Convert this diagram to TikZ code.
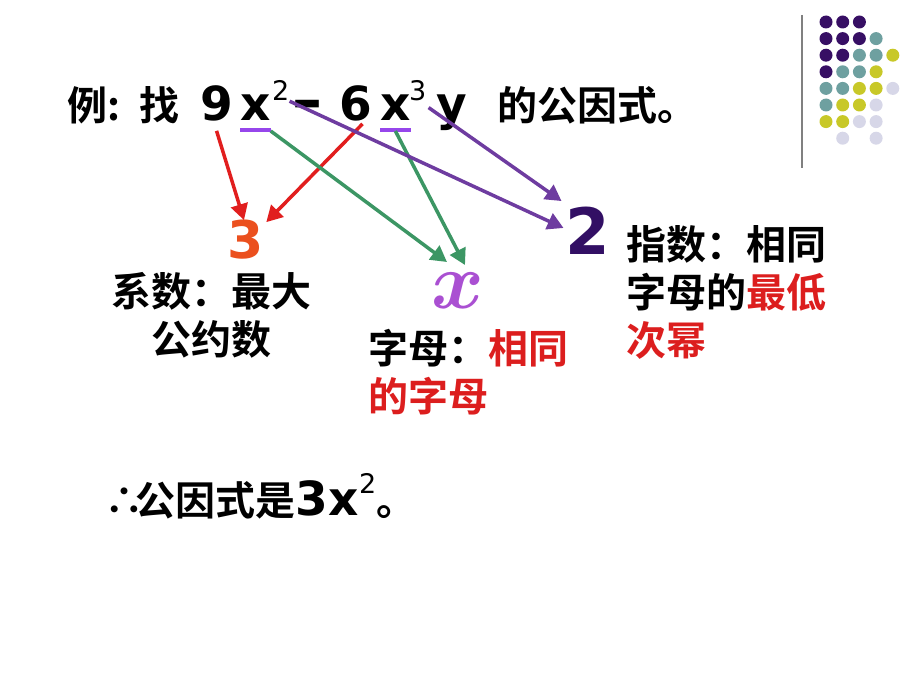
\documentclass[tikz,border=0pt]{standalone}
\usepackage{fix-cm}
\usepackage{fontspec}
\setmainfont{DejaVu Sans}
\newfontfamily\cjk{Noto Sans CJK SC Bold}
\usetikzlibrary{arrows.meta}

\definecolor{arrowred}{RGB}{225,30,30}
\definecolor{arrowgreen}{RGB}{60,150,100}
\definecolor{arrowpurple}{RGB}{110,60,160}
\definecolor{barpurple}{RGB}{150,70,235}
\definecolor{coefred}{RGB}{235,80,30}
\definecolor{letterviolet}{RGB}{170,80,210}
\definecolor{expdark}{RGB}{50,15,100}
\definecolor{textred}{RGB}{220,30,30}
\definecolor{dotdark}{RGB}{55,15,100}
\definecolor{dotteal}{RGB}{110,160,160}
\definecolor{dotyellow}{RGB}{200,200,40}
\definecolor{dotpale}{RGB}{215,215,232}

\tikzset{
  big/.style={inner sep=0, anchor=base west, font=\fontsize{47}{47}\selectfont\bfseries},
  sup/.style={inner sep=0, anchor=base west, font=\fontsize{27}{27}\selectfont},
  han/.style={inner sep=0, anchor=base west, font=\cjk\fontsize{40}{40}\selectfont},
  note/.style={inner sep=0, anchor=west, align=left, font=\cjk\fontsize{40}{48}\selectfont},
  link/.style={line width=3.5pt, -{Triangle[length=16pt,width=17pt]}},
  ubar/.style={line width=4pt, draw=barpurple},
  dot/.style={circle, inner sep=0, minimum size=13pt},
}

\begin{document}
\begin{tikzpicture}[x=1pt,y=-1pt]
  \useasboundingbox (0,0) rectangle (920,690);

  % corner decoration
  \draw[line width=1.5pt, gray] (802,15) -- (802,168);
  \foreach \c/\r/\col in {0/0/dotdark,1/0/dotdark,2/0/dotdark,
      0/1/dotdark,1/1/dotdark,2/1/dotdark,3/1/dotteal,
      0/2/dotdark,1/2/dotdark,2/2/dotteal,3/2/dotteal,4/2/dotyellow,
      0/3/dotdark,1/3/dotteal,2/3/dotteal,3/3/dotyellow,
      0/4/dotteal,1/4/dotteal,2/4/dotyellow,3/4/dotyellow,4/4/dotpale,
      0/5/dotteal,1/5/dotyellow,2/5/dotyellow,3/5/dotpale,
      0/6/dotyellow,1/6/dotyellow,2/6/dotpale,3/6/dotpale,
      1/7/dotpale,3/7/dotpale}
    \node[dot, fill=\col] (d\c\r) at (826+16.7*\c, 22+16.6*\r) {};

  % the problem line
  \node[han] (li) at (67,121) {例:};
  \node[han] (zhao) at (139,121) {找};
  \node[big] (nine) at (200,121) {9};
  \node[big] (xa) at (240,121) {x};
  \node[sup] (supa) at (272,101) {2};
  \node[big, font=\fontsize{60}{60}\selectfont\bfseries] (minus) at (292,121) {–};
  \node[big] (six) at (339,121) {6};
  \node[big] (xb) at (380,121) {x};
  \node[sup] (supb) at (409,101) {3};
  \node[big] (yy) at (436,121) {y};
  \node[han] (rest) at (497,121) {的公因式。};
  \draw[ubar] ([yshift=-9pt]xa.base west) -- ([yshift=-9pt]xa.base east);
  \draw[ubar] ([yshift=-9pt]xb.base west) -- ([yshift=-9pt]xb.base east);

  % the three parts
  \node[inner sep=0, text=coefred, font=\fontsize{52}{52}\selectfont\bfseries] (three) at (246,240) {3};
  \node[inner sep=0, text=letterviolet, font=\fontsize{80}{80}\selectfont\boldmath] (bigx) at (458,291) {$x$};
  \node[inner sep=0, text=expdark, font=\fontsize{64}{64}\selectfont\bfseries] (two) at (588,231) {2};

  \node[note, anchor=center, align=center] (coefnote) at (211,315) {系数：最大\\公约数};
  \node[note] (letternote) at (368,372) {字母：\textcolor{textred}{相同}\\\textcolor{textred}{的字母}};
  \node[note] (expnote) at (626,292) {指数：相同\\字母的\textcolor{textred}{最低}\\\textcolor{textred}{次幂}};

  \draw[link, arrowred] ([yshift=-9pt]nine.south) -- ([xshift=-2pt]three.north);
  \draw[link, arrowred] ([xshift=7pt,yshift=-2pt]six.south) -- ([xshift=2pt,yshift=-2pt]three.north east);
  \draw[link, arrowgreen] ([yshift=-10pt]xa.base east) -- ([xshift=-11pt,yshift=11pt]bigx.north);
  \draw[link, arrowgreen] ([yshift=-10pt]xb.base) -- ([xshift=7pt,yshift=8pt]bigx.north);
  \draw[link, arrowpurple] (supa.south east) -- ([xshift=-2pt,yshift=3pt]two.west);
  \draw[link, arrowpurple] ([xshift=2pt,yshift=-6pt]supb.south east) -- ([xshift=-4pt,yshift=6pt]two.north west);

  % conclusion
  \node[han] (therefore) at (104,515) {∴};
  \node[han] (answer) at (135,515) {公因式是};
  \node[big] (ans3x) at (answer.base east) {3x};
  \node[sup, yshift=22pt] (anssup) at (ans3x.base east) {2};
  \node[han] (dot) at (anssup.base east |- answer.base) {。};
\end{tikzpicture}
\end{document}
